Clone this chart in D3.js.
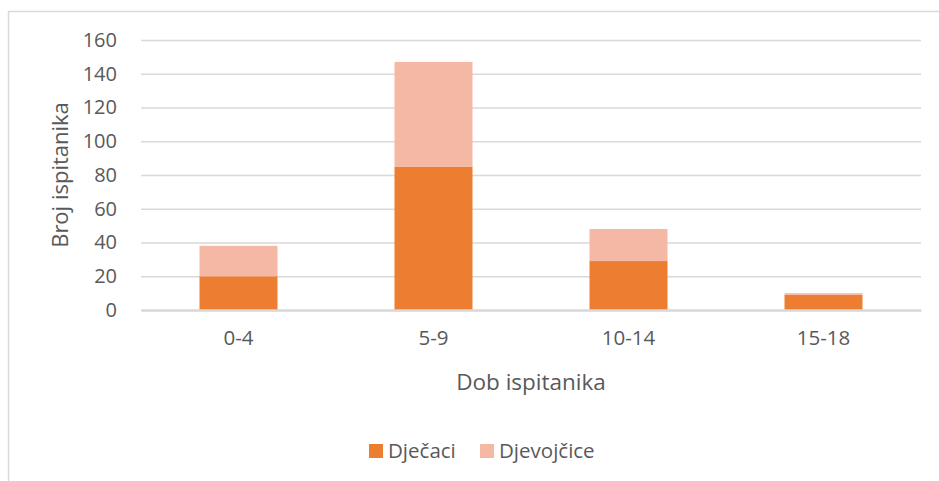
<!DOCTYPE html>
<html>
<head>
<meta charset="utf-8">
<script src="https://cdn.jsdelivr.net/npm/d3@7"></script>
<style>
  body { margin: 0; background: #fff; }
  text { font-family: "Open Sans", sans-serif; fill: #595959; }
</style>
</head>
<body>
<div id="wrapper"></div>
<script>
// data
const categories = ["0-4", "5-9", "10-14", "15-18"];
const seriesNames = ["Dječaci", "Djevojčice"];
const boys = [20, 85, 29, 9];
const girls = [18, 62, 19, 1];
const yTicks = [0, 20, 40, 60, 80, 100, 120, 140, 160];
const colors = ["#ED7D31", "#F4B8A4"];

const width = 939;
const height = 481;
const margin = { top: 40, right: 18, bottom: 171, left: 141 };
const boundedWidth = width - margin.left - margin.right;
const boundedHeight = height - margin.top - margin.bottom;

const svg = d3.select("#wrapper")
  .append("svg")
  .attr("width", width)
  .attr("height", height);

// chart frame (only top + left visible in the crop)
svg.append("path")
  .attr("d", `M8.5,${height} V11.5 H${width}`)
  .attr("fill", "none")
  .attr("stroke", "#d9d9d9")
  .attr("stroke-width", 1.5);

const bounds = svg.append("g")
  .attr("transform", `translate(${margin.left},${margin.top})`);

const xScale = d3.scaleBand()
  .domain(categories)
  .range([0, boundedWidth])
  .paddingInner(0.6)
  .paddingOuter(0.3);

const yScale = d3.scaleLinear()
  .domain([0, 160])
  .range([boundedHeight, 0]);

// gridlines + y labels
const yAxis = bounds.append("g")
  .call(d3.axisLeft(yScale).tickValues(yTicks).tickSize(-boundedWidth).tickPadding(24));
yAxis.select(".domain").remove();
yAxis.selectAll(".tick line")
  .attr("stroke", "#d9d9d9")
  .attr("stroke-width", 1.5);
yAxis.selectAll(".tick text")
  .style("font-size", "20px")
  .attr("fill", "#595959");

// stacked bars
const rows = categories.map((c, i) => ({ cat: c, "Dječaci": boys[i], "Djevojčice": girls[i] }));
const stacked = d3.stack().keys(seriesNames)(rows);

bounds.selectAll(".layer")
  .data(stacked)
  .join("g")
  .attr("class", "layer")
  .attr("fill", (d, i) => colors[i])
  .selectAll("rect")
  .data(d => d)
  .join("rect")
  .attr("x", d => xScale(d.data.cat))
  .attr("y", d => yScale(d[1]))
  .attr("width", xScale.bandwidth())
  .attr("height", d => yScale(d[0]) - yScale(d[1]));

// x axis
const xAxis = bounds.append("g")
  .attr("transform", `translate(0,${boundedHeight})`)
  .call(d3.axisBottom(xScale).tickSize(0).tickPadding(20));
xAxis.select(".domain")
  .attr("stroke", "#d9d9d9")
  .attr("stroke-width", 2.5);
xAxis.selectAll(".tick text")
  .style("font-size", "20.5px")
  .attr("fill", "#595959");

// axis titles
bounds.append("text")
  .attr("x", boundedWidth / 2)
  .attr("y", boundedHeight + 80)
  .attr("text-anchor", "middle")
  .style("font-size", "22.5px")
  .text("Dob ispitanika");

bounds.append("text")
  .attr("transform", `translate(${60 - margin.left},${175 - margin.top}) rotate(-90)`)
  .attr("text-anchor", "middle")
  .attr("dy", "0.35em")
  .style("font-size", "22px")
  .text("Broj ispitanika");

// legend
const legendItems = [{ x: 369 }, { x: 480 }];
const legend = svg.append("g");
seriesNames.forEach((name, i) => {
  const g = legend.append("g").attr("transform", `translate(${legendItems[i].x},444)`);
  g.append("rect").attr("width", 14).attr("height", 14).attr("fill", colors[i]);
  g.append("text")
    .attr("x", 19)
    .attr("y", 7)
    .attr("dy", "0.35em")
    .style("font-size", "20.5px")
    .text(name);
});
</script>
</body>
</html>
